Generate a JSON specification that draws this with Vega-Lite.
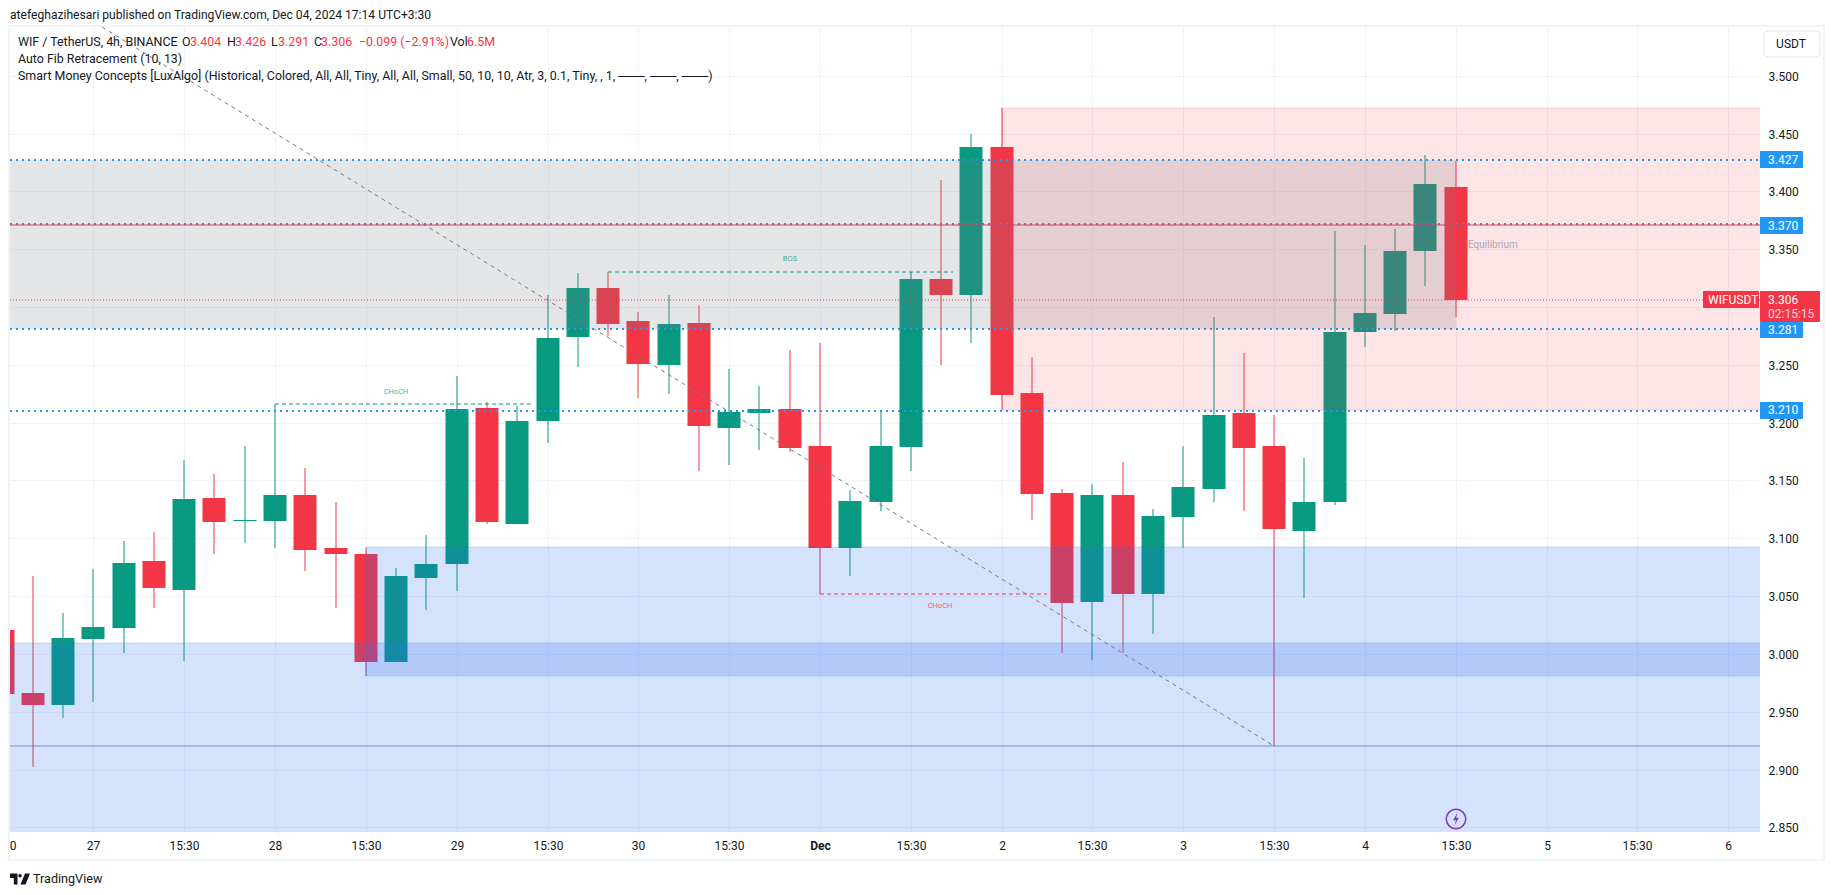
{"$schema":"https://vega.github.io/schema/vega-lite/v6.json","width":1750,"height":805,"autosize":{"type":"none"},"padding":{"left":10,"top":27,"right":75,"bottom":63},"background":"#ffffff","title":{"text":"atefeghazihesari published on TradingView.com, Dec 04, 2024 17:14 UTC+3:30","anchor":"start","frame":"group","offset":4,"font":"Roboto","fontSize":12.1,"fontWeight":"normal","color":"#131722"},"config":{"view":{"stroke":null},"text":{"font":"Roboto"}},"datasets":{"candles":[
{"t":"2024-11-26T15:30:00Z","open":3.021,"high":3.021,"low":2.965,"close":2.965},
{"t":"2024-11-26T19:30:00Z","open":2.966,"high":3.067,"low":2.902,"close":2.956},
{"t":"2024-11-26T23:30:00Z","open":2.956,"high":3.035,"low":2.945,"close":3.014},
{"t":"2024-11-27T03:30:00Z","open":3.013,"high":3.073,"low":2.958,"close":3.023},
{"t":"2024-11-27T07:30:00Z","open":3.022,"high":3.098,"low":3.001,"close":3.079},
{"t":"2024-11-27T11:30:00Z","open":3.080,"high":3.105,"low":3.040,"close":3.057},
{"t":"2024-11-27T15:30:00Z","open":3.055,"high":3.168,"low":2.994,"close":3.134},
{"t":"2024-11-27T19:30:00Z","open":3.135,"high":3.156,"low":3.086,"close":3.114},
{"t":"2024-11-27T23:30:00Z","open":3.1146,"high":3.180,"low":3.096,"close":3.1155},
{"t":"2024-11-28T03:30:00Z","open":3.115,"high":3.216,"low":3.092,"close":3.137},
{"t":"2024-11-28T07:30:00Z","open":3.137,"high":3.161,"low":3.072,"close":3.090},
{"t":"2024-11-28T11:30:00Z","open":3.092,"high":3.131,"low":3.040,"close":3.086},
{"t":"2024-11-28T15:30:00Z","open":3.086,"high":3.092,"low":2.981,"close":2.993},
{"t":"2024-11-28T19:30:00Z","open":2.993,"high":3.074,"low":2.993,"close":3.067},
{"t":"2024-11-28T23:30:00Z","open":3.066,"high":3.103,"low":3.038,"close":3.078},
{"t":"2024-11-29T03:30:00Z","open":3.078,"high":3.240,"low":3.054,"close":3.212},
{"t":"2024-11-29T07:30:00Z","open":3.213,"high":3.218,"low":3.112,"close":3.114},
{"t":"2024-11-29T11:30:00Z","open":3.112,"high":3.214,"low":3.112,"close":3.201},
{"t":"2024-11-29T15:30:00Z","open":3.201,"high":3.310,"low":3.182,"close":3.273},
{"t":"2024-11-29T19:30:00Z","open":3.274,"high":3.329,"low":3.248,"close":3.316},
{"t":"2024-11-29T23:30:00Z","open":3.316,"high":3.330,"low":3.275,"close":3.285},
{"t":"2024-11-30T03:30:00Z","open":3.288,"high":3.296,"low":3.221,"close":3.251},
{"t":"2024-11-30T07:30:00Z","open":3.250,"high":3.310,"low":3.225,"close":3.285},
{"t":"2024-11-30T11:30:00Z","open":3.286,"high":3.302,"low":3.158,"close":3.197},
{"t":"2024-11-30T15:30:00Z","open":3.195,"high":3.246,"low":3.163,"close":3.209},
{"t":"2024-11-30T19:30:00Z","open":3.208,"high":3.232,"low":3.176,"close":3.212},
{"t":"2024-11-30T23:30:00Z","open":3.212,"high":3.263,"low":3.175,"close":3.178},
{"t":"2024-12-01T03:30:00Z","open":3.180,"high":3.269,"low":3.052,"close":3.092},
{"t":"2024-12-01T07:30:00Z","open":3.092,"high":3.142,"low":3.067,"close":3.132},
{"t":"2024-12-01T11:30:00Z","open":3.131,"high":3.211,"low":3.124,"close":3.180},
{"t":"2024-12-01T15:30:00Z","open":3.179,"high":3.330,"low":3.158,"close":3.324},
{"t":"2024-12-01T19:30:00Z","open":3.324,"high":3.410,"low":3.250,"close":3.310},
{"t":"2024-12-01T23:30:00Z","open":3.310,"high":3.450,"low":3.269,"close":3.438},
{"t":"2024-12-02T03:30:00Z","open":3.438,"high":3.472,"low":3.211,"close":3.224},
{"t":"2024-12-02T07:30:00Z","open":3.226,"high":3.257,"low":3.116,"close":3.138},
{"t":"2024-12-02T11:30:00Z","open":3.139,"high":3.143,"low":3.001,"close":3.044},
{"t":"2024-12-02T15:30:00Z","open":3.045,"high":3.147,"low":2.995,"close":3.137},
{"t":"2024-12-02T19:30:00Z","open":3.137,"high":3.166,"low":3.001,"close":3.052},
{"t":"2024-12-02T23:30:00Z","open":3.052,"high":3.125,"low":3.017,"close":3.119},
{"t":"2024-12-03T03:30:00Z","open":3.118,"high":3.180,"low":3.092,"close":3.144},
{"t":"2024-12-03T07:30:00Z","open":3.143,"high":3.291,"low":3.131,"close":3.207},
{"t":"2024-12-03T11:30:00Z","open":3.208,"high":3.260,"low":3.124,"close":3.178},
{"t":"2024-12-03T15:30:00Z","open":3.180,"high":3.207,"low":2.920,"close":3.108},
{"t":"2024-12-03T19:30:00Z","open":3.106,"high":3.169,"low":3.048,"close":3.131},
{"t":"2024-12-03T23:30:00Z","open":3.131,"high":3.366,"low":3.129,"close":3.278},
{"t":"2024-12-04T03:30:00Z","open":3.278,"high":3.354,"low":3.265,"close":3.295},
{"t":"2024-12-04T07:30:00Z","open":3.294,"high":3.367,"low":3.279,"close":3.348},
{"t":"2024-12-04T11:30:00Z","open":3.348,"high":3.431,"low":3.318,"close":3.406},
{"t":"2024-12-04T15:30:00Z","open":3.404,"high":3.426,"low":3.291,"close":3.306}
]},"encoding":{"x":{"field":"t","type":"temporal","title":null,"scale":{"type":"utc","domain":[1732638540000,1733470920000],"round":true,"padding":0},"axis":{"values":[1732678200000,1732721400000,1732764600000,1732807800000,1732851000000,1732894200000,1732937400000,1732980600000,1733023800000,1733067000000,1733110200000,1733153400000,1733196600000,1733239800000,1733283000000,1733326200000,1733369400000,1733412600000,1733455800000],"labelExpr":"utchours(datum.value)==15 ? '15:30' : (utcdate(datum.value)==1 ? 'Dec' : ''+utcdate(datum.value))","labelFontWeight":{"condition":{"test":"utchours(datum.value)!=15 && utcdate(datum.value)==1","value":"bold"},"value":"normal"},"labelFont":"Roboto","labelFontSize":12,"labelColor":"#131722","labelPadding":8,"labelOverlap":false,"labelFlush":false,"domain":false,"ticks":false,"grid":true,"gridColor":"#f0f3fa","gridWidth":1}},"y":{"field":"price","type":"quantitative","title":null,"scale":{"domain":[2.846,3.5421],"nice":false,"zero":false,"round":true},"axis":{"orient":"right","values":[2.85,2.9,2.95,3.0,3.05,3.1,3.15,3.2,3.25,3.3,3.35,3.4,3.45,3.5],"labelExpr":"abs(datum.value-3.3)<0.001 ? '' : format(datum.value,'.3f')","labelFont":"Roboto","labelFontSize":12,"labelColor":"#131722","labelPadding":8,"labelOverlap":false,"domain":false,"ticks":false,"grid":true,"gridColor":"#f0f3fa","gridWidth":1}}},"layer":[
{"data":{"name":"candles"},"mark":{"type":"rule","strokeWidth":1,"clip":true},"encoding":{"y":{"field":"low","type":"quantitative","title":null,"scale":{"domain":[2.846,3.5421],"nice":false,"zero":false,"round":true},"axis":{"orient":"right","values":[2.85,2.9,2.95,3.0,3.05,3.1,3.15,3.2,3.25,3.3,3.35,3.4,3.45,3.5],"labelExpr":"abs(datum.value-3.3)<0.001 ? '' : format(datum.value,'.3f')","labelFont":"Roboto","labelFontSize":12,"labelColor":"#131722","labelPadding":8,"labelOverlap":false,"domain":false,"ticks":false,"grid":true,"gridColor":"#f0f3fa","gridWidth":1}},"y2":{"field":"high"},"color":{"condition":{"test":"datum.close>=datum.open","value":"#089981"},"value":"#f23645"}}},
{"data":{"name":"candles"},"mark":{"type":"bar","size":23,"clip":true},"encoding":{"y":{"field":"open","type":"quantitative","title":null,"scale":{"domain":[2.846,3.5421],"nice":false,"zero":false,"round":true},"axis":{"orient":"right","values":[2.85,2.9,2.95,3.0,3.05,3.1,3.15,3.2,3.25,3.3,3.35,3.4,3.45,3.5],"labelExpr":"abs(datum.value-3.3)<0.001 ? '' : format(datum.value,'.3f')","labelFont":"Roboto","labelFontSize":12,"labelColor":"#131722","labelPadding":8,"labelOverlap":false,"domain":false,"ticks":false,"grid":true,"gridColor":"#f0f3fa","gridWidth":1}},"y2":{"field":"close"},"color":{"condition":{"test":"datum.close>=datum.open","value":"#089981"},"value":"#f23645"}}},
{"data":{"values":[{"zone":"Fibonacci range","t":1732638540000,"t2":"2024-12-04T15:30:00Z","price":3.427,"price2":3.281}]},"mark":{"type":"rect","fill":"#787b86","fillOpacity":0.2,"clip":true},"encoding":{"x2":{"field":"t2"},"y2":{"field":"price2"}}},
{"data":{"values":[{"zone":"Supply","t":"2024-12-02T03:30:00Z","t2":"2024-12-06T09:00:00Z","price":3.4718,"price2":3.2109}]},"mark":{"type":"rect","fill":"#f23645","fillOpacity":0.13,"stroke":"#f23645","strokeOpacity":0.2,"strokeWidth":1,"clip":true},"encoding":{"x2":{"field":"t2"},"y2":{"field":"price2"}}},
{"data":{"values":[{"zone":"Demand low","t":"2024-11-26T12:00:00Z","t2":"2024-12-06T09:00:00Z","price":3.0091,"price2":2.84},{"zone":"Demand high","t":"2024-11-28T15:30:00Z","t2":"2024-12-06T09:00:00Z","price":3.0921,"price2":2.9811}]},"mark":{"type":"rect","fill":"#2e6ff0","fillOpacity":0.2,"stroke":"#2e6ff0","strokeOpacity":0.2,"strokeWidth":1,"clip":true},"encoding":{"x2":{"field":"t2"},"y2":{"field":"price2"}}},
{"data":{"values":[{"t":"2024-11-27T04:38:00Z","price":3.5421},{"t":"2024-12-03T15:30:00Z","price":2.92}]},"mark":{"type":"line","stroke":"#787b86","strokeWidth":1,"strokeDash":[4,4],"clip":true}},
{"data":{"values":[{"t":"2024-11-28T03:30:00Z","t2":"2024-11-29T13:42:00Z","price":3.2161},{"t":"2024-11-29T23:30:00Z","t2":"2024-12-01T21:06:00Z","price":3.33}]},"mark":{"type":"rule","stroke":"#089981","strokeWidth":1,"strokeDash":[4,3]},"encoding":{"x2":{"field":"t2"}}},
{"data":{"values":[{"t":"2024-12-01T03:30:00Z","t2":"2024-12-02T09:30:00Z","price":3.0515}]},"mark":{"type":"rule","stroke":"#f23645","strokeWidth":1,"strokeDash":[4,3]},"encoding":{"x2":{"field":"t2"}}},
{"data":{"values":[{"t":1732638540000,"t2":1733470920000,"price":2.92}]},"mark":{"type":"rule","stroke":"#2a4fae","strokeOpacity":0.55,"strokeWidth":1},"encoding":{"x2":{"field":"t2"}}},
{"data":{"values":[{"t":1732638540000,"t2":1733470920000,"price":3.306}]},"mark":{"type":"rule","stroke":"#f23645","strokeWidth":1,"strokeDash":[1,2]},"encoding":{"x2":{"field":"t2"}}},
{"data":{"values":[{"t":1732638540000,"t2":1733470920000,"price":3.427},{"t":1732638540000,"t2":1733470920000,"price":3.3716},{"t":1732638540000,"t2":1733470920000,"price":3.281},{"t":1732638540000,"t2":1733470920000,"price":3.21}]},"mark":{"type":"rule","stroke":"#2196f3","strokeWidth":2,"strokeDash":[2,4]},"encoding":{"x2":{"field":"t2"}}},
{"data":{"values":[{"t":1732638540000,"t2":1733470920000,"price":3.3708}]},"mark":{"type":"rule","stroke":"#f23645","strokeWidth":1},"encoding":{"x2":{"field":"t2"}}},
{"data":{"values":[{"label":"CHoCH","t":"2024-11-28T19:30:00Z","price":3.2267},{"label":"BOS","t":"2024-11-30T23:30:00Z","price":3.3412}]},"mark":{"type":"text","fontSize":7.5,"color":"#089981","opacity":0.75},"encoding":{"text":{"field":"label"}}},
{"data":{"values":[{"label":"CHoCH","t":"2024-12-01T19:22:00Z","price":3.0411}]},"mark":{"type":"text","fontSize":7.5,"color":"#f23645","opacity":0.75},"encoding":{"text":{"field":"label"}}},
{"data":{"values":[{"label":"Equilibrium","t":"2024-12-04T17:06:00Z","price":3.3536}]},"mark":{"type":"text","fontSize":10,"align":"left","color":"#787b86","opacity":0.6},"encoding":{"text":{"field":"label"}}},
{"data":{"values":[{"label":"WIF / TetherUS, 4h, BINANCE","t":"2024-11-26T17:32:00Z","price":3.5294},{"label":"O","t":"2024-11-27T15:13:00Z","price":3.5294},{"label":"H","t":"2024-11-27T21:09:00Z","price":3.5294},{"label":"L","t":"2024-11-28T03:01:00Z","price":3.5294},{"label":"C","t":"2024-11-28T08:41:00Z","price":3.5294},{"label":"Vol","t":"2024-11-29T02:41:00Z","price":3.5294},{"label":"Auto Fib Retracement (10, 13)","t":"2024-11-26T17:32:00Z","price":3.5147},{"label":"Smart Money Concepts [LuxAlgo] (Historical, Colored, All, All, Tiny, All, All, Small, 50, 10, 10, Atr, 3, 0.1, Tiny, , 1, ───, ───, ───)","t":"2024-11-26T17:32:00Z","price":3.4997}]},"mark":{"type":"text","fontSize":12.4,"align":"left","color":"#131722"},"encoding":{"text":{"field":"label"}}},
{"data":{"values":[{"label":"3.404","t":"2024-11-27T16:14:00Z","price":3.5294},{"label":"3.426","t":"2024-11-27T22:10:00Z","price":3.5294},{"label":"3.291","t":"2024-11-28T03:53:00Z","price":3.5294},{"label":"3.306","t":"2024-11-28T09:38:00Z","price":3.5294},{"label":"−0.099 (−2.91%)","t":"2024-11-28T14:33:00Z","price":3.5294},{"label":"6.5M","t":"2024-11-29T04:50:00Z","price":3.5294}]},"mark":{"type":"text","fontSize":12.4,"align":"left","color":"#f23645"},"encoding":{"text":{"field":"label"}}},
{"data":{"values":[{"t":"2024-12-04T15:30:00Z","price":2.8569}]},"mark":{"type":"point","shape":"circle","size":380,"filled":false,"stroke":"#7e3ab8","strokeWidth":1.5,"opacity":1}},
{"data":{"values":[{"t":"2024-12-04T15:30:00Z","price":2.8569}]},"mark":{"type":"point","shape":"M.15,-.6 L-.25,.1 L0,.1 L-.15,.6 L.25,-.1 L0,-.1 Z","size":520,"filled":true,"fill":"#7e3ab8","opacity":1}},
{"data":{"values":[{"t":"2024-12-06T08:14:00Z","t2":"2024-12-06T15:39:00Z","price":3.5387,"price2":3.5162}]},"mark":{"type":"rect","fill":"#ffffff","stroke":"#e0e3eb","strokeWidth":1,"cornerRadius":4},"encoding":{"x2":{"field":"t2"},"y2":{"field":"price2"}}},
{"data":{"values":[{"label":"USDT","t":"2024-12-06T11:48:00Z","price":3.5274}]},"mark":{"type":"text","fontSize":12,"color":"#131722"},"encoding":{"text":{"field":"label"}}},
{"data":{"values":[{"t":1733470920000,"t2":"2024-12-06T13:22:00Z","price":3.4349,"price2":3.4202},{"t":1733470920000,"t2":"2024-12-06T13:22:00Z","price":3.3775,"price2":3.3634},{"t":1733470920000,"t2":"2024-12-06T13:22:00Z","price":3.2873,"price2":3.2733},{"t":1733470920000,"t2":"2024-12-06T13:22:00Z","price":3.2178,"price2":3.2034}]},"mark":{"type":"rect","fill":"#2196f3","cornerRadius":1},"encoding":{"x2":{"field":"t2"},"y2":{"field":"price2"}}},
{"data":{"values":[{"label":"3.427","t":"2024-12-06T08:46:00Z","price":3.4274},{"label":"3.370","t":"2024-12-06T08:46:00Z","price":3.3704},{"label":"3.281","t":"2024-12-06T08:46:00Z","price":3.28},{"label":"3.210","t":"2024-12-06T08:46:00Z","price":3.2106}]},"mark":{"type":"text","fontSize":12,"align":"left","color":"#ffffff"},"encoding":{"text":{"field":"label"}}},
{"data":{"values":[{"t":1733470920000,"t2":"2024-12-06T15:39:00Z","price":3.3138,"price2":3.2873},{"t":"2024-12-06T00:11:00Z","t2":"2024-12-06T07:34:00Z","price":3.3138,"price2":3.2994}]},"mark":{"type":"rect","fill":"#f23645","cornerRadius":1},"encoding":{"x2":{"field":"t2"},"y2":{"field":"price2"}}},
{"data":{"values":[{"label":"3.306","t":"2024-12-06T08:46:00Z","price":3.3063},{"label":"WIFUSDT","t":"2024-12-06T00:50:00Z","price":3.3063}]},"mark":{"type":"text","fontSize":12,"align":"left","color":"#ffffff"},"encoding":{"text":{"field":"label"}}},
{"data":{"values":[{"label":"02:15:15","t":"2024-12-06T08:46:00Z","price":3.2942}]},"mark":{"type":"text","fontSize":12,"align":"left","color":"#ffd5da"},"encoding":{"text":{"field":"label"}}},
{"data":{"values":[{"label":"0","t":"2024-11-26T16:56:00Z","price":2.8338}]},"mark":{"type":"text","fontSize":12,"color":"#131722"},"encoding":{"text":{"field":"label"}}},
{"data":{"values":[{"t":"2024-11-26T16:21:00Z","t2":"2024-12-06T16:10:00Z","price":3.543,"price2":2.8217}]},"mark":{"type":"rect","fillOpacity":0,"fill":"#ffffff","stroke":"#f0f3fa","strokeWidth":2},"encoding":{"x2":{"field":"t2"},"y2":{"field":"price2"}}},
{"data":{"values":[{"t":"2024-11-26T17:48:00Z","price":2.8055}]},"mark":{"type":"point","shape":"M-1,-.55 L-.25,-.55 L-.25,.55 L-.62,.55 L-.62,-.1 L-1,-.1 Z M-.17,-.32 a.17,.17 0 1,0 .34,0 a.17,.17 0 1,0 -.34,0 Z M.5,-.55 L1,-.55 L.55,.55 L.05,.55 Z","size":400,"filled":true,"fill":"#131722","opacity":1}},
{"data":{"values":[{"label":"TradingView","t":"2024-11-26T19:31:00Z","price":2.8055}]},"mark":{"type":"text","fontSize":12.6,"align":"left","color":"#131722"},"encoding":{"text":{"field":"label"}}}
]}
